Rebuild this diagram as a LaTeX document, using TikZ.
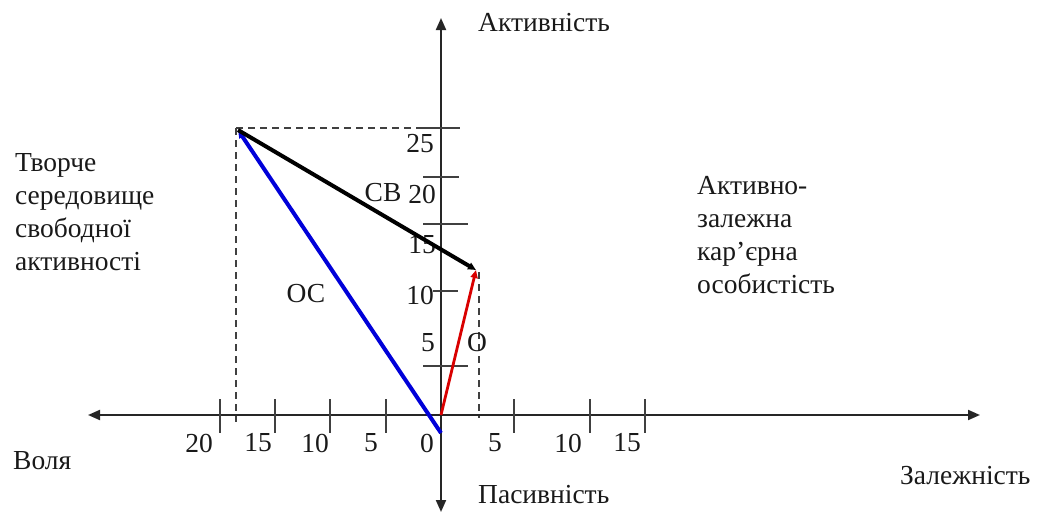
\documentclass[tikz,border=0pt]{standalone}
\usepackage{fontspec}
\setmainfont{Liberation Serif}
\usetikzlibrary{arrows.meta}
\tikzset{
  axis/.style={line width=2pt, draw=black!85,
    {Triangle[length=12pt,width=10pt]}-{Triangle[length=12pt,width=10pt]}},
  tickmark/.style={line width=2pt, draw=black!75},
  guide/.style={dash pattern=on 7pt off 5pt, line width=1.8pt, draw=black!75},
  vec/.style={line width=4pt, -{Triangle[length=8pt,width=7pt]}},
  lbl/.style={font=\fontsize{27.5}{33}\selectfont, inner sep=0pt, text=black!90},
}
\begin{document}
\begin{tikzpicture}[x=1pt,y=-1pt]
\useasboundingbox (0,0) rectangle (1045,514);
% axes
\coordinate (o) at (441,415);
\coordinate (xl) at (88,415);
\coordinate (xr) at (980,415);
\coordinate (yb) at (441,512);
\coordinate (yt) at (441,18);
\draw[axis] (xl) -- (xr);
\draw[axis] (yb) -- (yt);

% ticks on the horizontal axis
\foreach \x/\t/\lx in {220/20/199, 275/15/258, 330/10/315, 386/5/371,
                       514/5/495, 590/10/568, 645/15/627}{
  \draw[tickmark] (\x,399) -- (\x,433);
  \node[lbl] (h\t\x) at (\lx,443) {\t};
}
\node[lbl] (h0) at (427,443) {0};

% ticks on the vertical axis
\foreach \y/\xa/\xb/\t/\lx/\ly in {128/423/460/25/420/144, 177/423/459/20/422/194,
    224/423/468/15/422/245, 291/433/458/10/420/295, 366/423/468/5/428/343}{
  \draw[tickmark] (\xa,\y) -- (\xb,\y);
  \node[lbl] (v\t) at (\lx,\ly) {\t};
}

% vectors
\coordinate (p) at (238,130);
\coordinate (q) at (476,270);
\coordinate (ob) at (441,433);
\draw[guide] (236,128) -- (423,128);
\draw[guide] (236,128) -- (236,422);
\draw[guide] (479,272) -- (479,418);
\draw[vec, blue!85!black] (ob) -- (p);
\draw[vec, red!85!black, line width=2.8pt] (o) -- (q);
\draw[vec, black] (p) -- (q);

\node[lbl] (cb) at (383,193) {СВ};
\node[lbl] (oc) at (306,294) {ОС};
\node[lbl] (ov) at (477,343) {О};

% axis names
\node[lbl, anchor=west] (act) at (478,23) {Активність};
\node[lbl, anchor=west] (pas) at (478,495) {Пасивність};
\node[lbl, anchor=west] (vol) at (13,461) {Воля};
\node[lbl, anchor=west] (zal) at (900,476) {Залежність};

% quadrant names
\node[lbl, anchor=north west, align=left] (tvor) at (15,153)
  {Творче\\середовище\\свободної\\активності};
\node[lbl, anchor=north west, align=left] (kar) at (697,176)
  {Активно-\\залежна\\кар’єрна\\особистість};
\end{tikzpicture}
\end{document}
